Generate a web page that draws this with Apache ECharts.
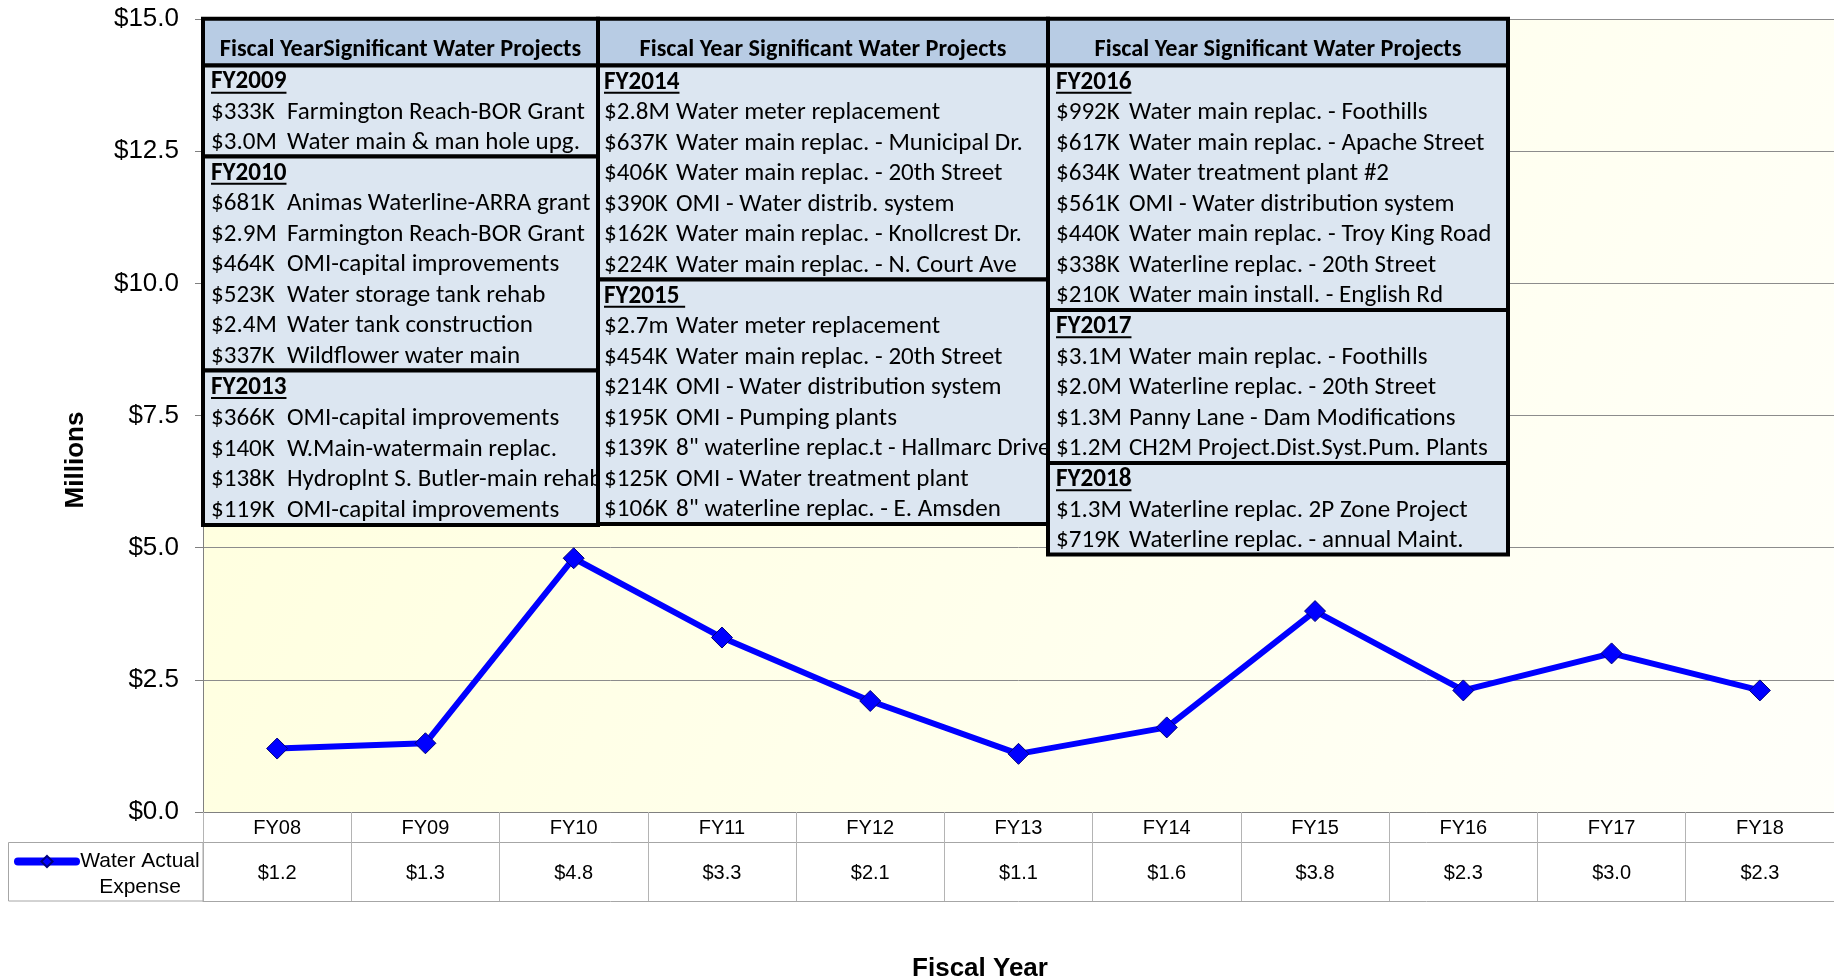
<!DOCTYPE html>
<html>
<head>
<meta charset="utf-8">
<script src="https://cdn.jsdelivr.net/npm/echarts@6/dist/echarts.min.js"></script>
<style>
html,body{margin:0;padding:0;background:#ffffff;}
#chart{width:1834px;height:979px;}
</style>
</head>
<body>
<div id="chart"></div>
<script>
// ---------------- DATA ----------------
const categories = ['FY08','FY09','FY10','FY11','FY12','FY13','FY14','FY15','FY16','FY17','FY18'];
const waterActualExpense = [1.2, 1.3, 4.8, 3.3, 2.1, 1.1, 1.6, 3.8, 2.3, 3.0, 2.3];
const seriesName = 'Water Actual Expense';
const legendLines = ['Water Actual', 'Expense'];
const yAxisTitle = 'Millions';
const xAxisTitle = 'Fiscal Year';

const projectHeaders = [
  'Fiscal YearSignificant Water Projects',
  'Fiscal Year Significant Water Projects',
  'Fiscal Year Significant Water Projects'
];
const projectsFY2009 = [
  ['$333K', 'Farmington Reach-BOR Grant'],
  ['$3.0M', 'Water main & man hole upg.']
];
const projectsFY2010 = [
  ['$681K', 'Animas Waterline-ARRA grant'],
  ['$2.9M', 'Farmington Reach-BOR Grant'],
  ['$464K', 'OMI-capital improvements'],
  ['$523K', 'Water storage tank rehab'],
  ['$2.4M', 'Water tank construction'],
  ['$337K', 'Wildflower water main']
];
const projectsFY2013 = [
  ['$366K', 'OMI-capital improvements'],
  ['$140K', 'W.Main-watermain replac.'],
  ['$138K', 'Hydroplnt S. Butler-main rehab'],
  ['$119K', 'OMI-capital improvements']
];
const projectsFY2014 = [
  ['$2.8M', 'Water meter replacement'],
  ['$637K', 'Water main replac. - Municipal Dr.'],
  ['$406K', 'Water main replac. - 20th Street'],
  ['$390K', 'OMI - Water distrib. system'],
  ['$162K', 'Water main replac. - Knollcrest Dr.'],
  ['$224K', 'Water main replac. - N. Court Ave']
];
const projectsFY2015 = [
  ['$2.7m', 'Water meter replacement'],
  ['$454K', 'Water main replac. - 20th Street'],
  ['$214K', 'OMI - Water distribution system'],
  ['$195K', 'OMI - Pumping plants'],
  ['$139K', '8" waterline replac.t - Hallmarc Drive'],
  ['$125K', 'OMI - Water treatment plant'],
  ['$106K', '8" waterline replac. - E. Amsden']
];
const projectsFY2016 = [
  ['$992K', 'Water main replac. - Foothills'],
  ['$617K', 'Water main replac. - Apache Street'],
  ['$634K', 'Water treatment plant #2'],
  ['$561K', 'OMI - Water distribution system'],
  ['$440K', 'Water main replac. - Troy King Road'],
  ['$338K', 'Waterline replac. - 20th Street'],
  ['$210K', 'Water main install. - English Rd']
];
const projectsFY2017 = [
  ['$3.1M', 'Water main replac. - Foothills'],
  ['$2.0M', 'Waterline replac. - 20th Street'],
  ['$1.3M', 'Panny Lane - Dam Modifications'],
  ['$1.2M', 'CH2M Project.Dist.Syst.Pum. Plants']
];
const projectsFY2018 = [
  ['$1.3M', 'Waterline replac. 2P Zone Project'],
  ['$719K', 'Waterline replac. - annual Maint.']
];
const projectColumns = [
  [['FY2009', projectsFY2009], ['FY2010', projectsFY2010], ['FY2013', projectsFY2013]],
  [['FY2014', projectsFY2014], ['FY2015 ', projectsFY2015]],
  [['FY2016', projectsFY2016], ['FY2017', projectsFY2017], ['FY2018', projectsFY2018]]
];

// ---------------- LAYOUT / STYLE ----------------
const GRID = {left: 203, right: 0, top: 19, bottom: 167};
const AXIS_FONT = '"Liberation Sans", Arial, sans-serif';
const BOX_FONT = 'Carlito, Lato, sans-serif';
const boxLayout = [
  {x0: 203, x1: 598, amtDx: 8, descDx: 84, heights: [91, 214, 154.5]},
  {x0: 598, x1: 1048, amtDx: 6, descDx: 78, heights: [214, 244.5]},
  {x0: 1048, x1: 1508, amtDx: 8, descDx: 81, heights: [244.5, 153, 91.5]}
];
const HEADER_TOP = 18.7, HEADER_H = 46.8;

const measureCtx = document.createElement('canvas').getContext('2d');
function fitSize(weight, family, sample, target) {
  measureCtx.font = weight + ' 100px ' + family;
  return 100 * target / measureCtx.measureText(sample).width;
}
function textWidth(font, txt) {
  measureCtx.font = font;
  return measureCtx.measureText(txt).width;
}
const itemSize = fitSize('normal', BOX_FONT, 'Farmington Reach-BOR Grant', 298);
const headSize = fitSize('bold', BOX_FONT, 'Fiscal Year Significant Water Projects', 367);
const fySize = fitSize('bold', BOX_FONT, 'FY2009', 75.5);

function txt(text, x, y, font, z, align) {
  return {
    type: 'text', z: z, silent: true,
    style: {
      text: text, x: x, y: y, font: font, fill: '#000000',
      textAlign: align || 'left', textVerticalAlign: 'middle',
      align: align || 'left', verticalAlign: 'middle'
    }
  };
}

function buildBoxes() {
  const els = [];
  projectColumns.forEach(function (sections, c) {
    const L = boxLayout[c];
    const zRect = 10 + c * 3, zText = 11 + c * 3, zLine = 12 + c * 3;
    const w = L.x1 - L.x0;
    els.push({type: 'rect', z: zRect, silent: true,
      shape: {x: L.x0, y: HEADER_TOP, width: w, height: HEADER_H},
      style: {fill: '#b8cce4', stroke: '#000000', lineWidth: 4}});
    els.push(txt(projectHeaders[c], (L.x0 + L.x1) / 2, HEADER_TOP + 31.5,
      'bold ' + headSize.toFixed(2) + 'px ' + BOX_FONT, zText, 'center'));
    let top = HEADER_TOP + HEADER_H;
    sections.forEach(function (sec, s) {
      const h = L.heights[s];
      const rows = sec[1].length + 1;
      const pitch = h / rows;
      els.push({type: 'rect', z: zRect, silent: true,
        shape: {x: L.x0, y: top, width: w, height: h},
        style: {fill: '#dce6f1', stroke: '#000000', lineWidth: 4}});
      const fyFont = 'bold ' + fySize.toFixed(2) + 'px ' + BOX_FONT;
      const hy = top + pitch * 0.5 + 1.5;
      els.push(txt(sec[0], L.x0 + L.amtDx, hy, fyFont, zText));
      const uw = textWidth(fyFont, sec[0]);
      els.push({type: 'line', z: zLine, silent: true,
        shape: {x1: L.x0 + L.amtDx, y1: hy + fySize * 0.42, x2: L.x0 + L.amtDx + uw, y2: hy + fySize * 0.42},
        style: {stroke: '#000000', lineWidth: 2}});
      const itemFont = itemSize.toFixed(2) + 'px ' + BOX_FONT;
      sec[1].forEach(function (it, k) {
        const y = top + pitch * (k + 1.5) + 1.5;
        els.push(txt(it[0], L.x0 + L.amtDx, y, itemFont, zText));
        els.push(txt(it[1], L.x0 + L.descDx, y, itemFont, zText));
      });
      top += h;
    });
  });
  return els;
}

const graphics = buildBoxes().concat([
  {type: 'text', z: 5, silent: true, rotation: Math.PI / 2, x: 75.5, y: 460,
    style: {text: yAxisTitle, x: 0, y: 0, font: 'bold 26px ' + AXIS_FONT, fill: '#000',
      textAlign: 'center', textVerticalAlign: 'middle', align: 'center', verticalAlign: 'middle'}},
  {type: 'text', z: 5, silent: true,
    style: {text: xAxisTitle, x: 980, y: 968.5, font: 'bold 26px ' + AXIS_FONT, fill: '#000',
      textAlign: 'center', textVerticalAlign: 'middle', align: 'center', verticalAlign: 'middle'}},
  {type: 'rect', z: 1, silent: true,
    shape: {x: 8.5, y: 842.5, width: 194.5, height: 58.5},
    style: {fill: 'none', stroke: '#a6a6a6', lineWidth: 1}}
]);

const chart = echarts.init(document.getElementById('chart'), null, {renderer: 'canvas'});
chart.setOption({
  animation: false,
  backgroundColor: '#ffffff',
  grid: {
    left: GRID.left, right: GRID.right, top: GRID.top, bottom: GRID.bottom,
    show: true, borderWidth: 0,
    backgroundColor: {
      type: 'linear', x: 0, y: 0, x2: 1, y2: 1,
      colorStops: [{offset: 0, color: '#ffffdc'}, {offset: 1, color: '#fffffa'}]
    }
  },
  legend: {
    data: [seriesName],
    left: 14, top: 851, padding: 0,
    itemWidth: 58, itemHeight: 14,
    formatter: function () { return '{t|' + legendLines[0] + '}\n{t|' + legendLines[1] + '}'; },
    textStyle: {
      fontFamily: AXIS_FONT, fontSize: 21, color: '#000', padding: [26, 0, 0, 0],
      width: 118,
      rich: {t: {fontFamily: AXIS_FONT, fontSize: 21, lineHeight: 26, align: 'center', width: 118}}
    },
    lineStyle: {width: 8, cap: 'round'}
  },
  xAxis: [
    {
      type: 'category', data: categories, position: 'bottom', boundaryGap: true,
      axisLine: {show: true, lineStyle: {color: '#808080', width: 1}},
      axisTick: {show: true, interval: 0, length: 89, lineStyle: {color: '#b4b4b4', width: 1}},
      axisLabel: {interval: 0, fontFamily: AXIS_FONT, fontSize: 20, lineHeight: 20, color: '#000', margin: 6},
      splitLine: {show: false}
    },
    {
      type: 'category', data: categories, position: 'bottom', offset: 30, boundaryGap: true,
      axisLine: {show: true, lineStyle: {color: '#a6a6a6', width: 1}},
      axisTick: {show: false},
      axisLabel: {interval: 0, fontFamily: AXIS_FONT, fontSize: 20, lineHeight: 20, color: '#000', margin: 21,
        formatter: function (v, i) { return '$' + waterActualExpense[i].toFixed(1); }},
      splitLine: {show: false}
    },
    {
      type: 'category', data: categories, position: 'bottom', offset: 89, boundaryGap: true,
      axisLine: {show: true, lineStyle: {color: '#a6a6a6', width: 1}},
      axisTick: {show: false}, axisLabel: {show: false}, splitLine: {show: false}
    }
  ],
  yAxis: {
    type: 'value', min: 0, max: 15, interval: 2.5,
    axisLine: {show: true, lineStyle: {color: '#808080', width: 1}},
    axisTick: {show: true, length: 8, lineStyle: {color: '#808080'}},
    axisLabel: {fontFamily: AXIS_FONT, fontSize: 26, color: '#000', margin: 24,
      formatter: function (v) { return '$' + v.toFixed(1); }},
    splitLine: {show: true, lineStyle: {color: '#8c8c8c', width: 1}}
  },
  series: [{
    name: seriesName, type: 'line', data: waterActualExpense,
    xAxisIndex: 0, yAxisIndex: 0, z: 3,
    symbol: 'diamond', symbolSize: 21,
    lineStyle: {color: '#0000ff', width: 6},
    itemStyle: {color: '#0000ff', borderColor: '#00007a', borderWidth: 1}
  }],
  graphic: graphics
});
</script>
</body>
</html>
